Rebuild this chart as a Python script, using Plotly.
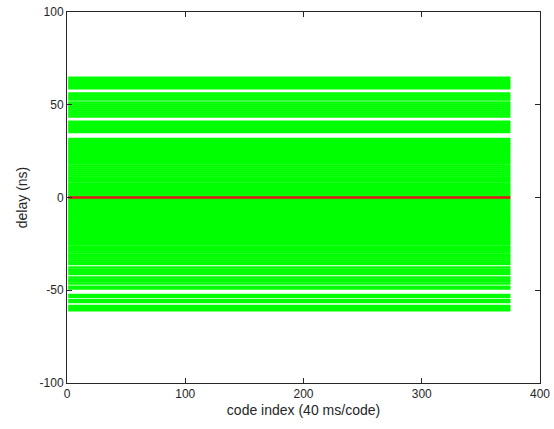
import plotly.graph_objects as go

# Code index span of every delay track
code_index = [1, 375]

# Estimated path delays (ns), one horizontal track each
delays_ns = [
    64.5, 63.2, 62.2, 61.1, 60.0, 58.9,
    56.0, 55.0, 53.9, 52.8,
    51.2, 50.2, 49.1, 48.0, 46.9, 45.8, 44.8, 43.6,
    40.8, 39.7, 38.6, 37.5, 36.4, 35.3,
    31.6, 30.5, 29.5, 28.4, 27.3, 26.3, 25.2, 24.1,
    22.8, 21.7, 20.6, 19.5, 18.4, 17.3, 16.2, 15.1, 14.0, 13.0, 11.9,
    10.8, 9.8, 8.7, 7.6, 6.6, 5.5, 4.4, 3.4, 2.3, 1.2, 0.2,
    -0.9, -2.0, -3.0, -4.1, -5.2, -6.2, -7.3, -8.4, -9.4, -10.5, -11.6,
    -12.6, -13.7, -14.8, -15.8, -16.9, -18.0, -19.0, -20.1, -21.2, -22.2,
    -23.3, -24.4, -25.4, -26.5, -27.6, -28.6, -29.7, -30.8, -31.8, -32.9,
    -34.0, -35.0, -35.9,
    -37.8, -38.9, -40.0, -41.2,
    -43.1, -44.2, -45.2, -46.3,
    -48.1, -49.1,
    -52.5, -53.5,
    -55.2, -56.3,
    -58.5, -59.6, -60.8,
]

# Reference (true) delay
reference_delay = 0.0

x_ticks = [0, 100, 200, 300, 400]
y_ticks = [-100, -50, 0, 50, 100]

xs, ys = [], []
for d in delays_ns:
    xs += [code_index[0], code_index[1], None]
    ys += [d, d, None]

fig = go.Figure()
fig.add_trace(go.Scatter(
    x=xs, y=ys, mode="lines",
    line=dict(color="#00ff00", width=2.5),
    hoverinfo="skip", showlegend=False,
))
fig.add_trace(go.Scatter(
    x=code_index, y=[reference_delay, reference_delay], mode="lines",
    line=dict(color="#e8141c", width=2.4),
    showlegend=False,
))

axis_common = dict(
    showline=True, mirror="ticks", linecolor="#262626", linewidth=1,
    ticks="inside", ticklen=5, tickcolor="#262626", tickwidth=1,
    showgrid=False, zeroline=False, automargin=False,
    tickfont=dict(family="Liberation Sans, Arial, sans-serif", size=12, color="#262626"),
)

fig.update_layout(
    width=554, height=429,
    margin=dict(l=67, r=14, t=12, b=46),
    paper_bgcolor="white", plot_bgcolor="white",
    font=dict(family="Liberation Sans, Arial, sans-serif", size=12, color="#262626"),
    xaxis=dict(range=[0, 400], tickvals=x_ticks, ticktext=[str(v) for v in x_ticks],
               title=dict(text="code index (40 ms/code)", standoff=4), **axis_common),
    yaxis=dict(range=[-100, 100], tickvals=y_ticks, ticktext=[str(v) for v in y_ticks],
               title=dict(text="delay (ns)", standoff=8), **axis_common),
)

fig.write_html("out.html")
